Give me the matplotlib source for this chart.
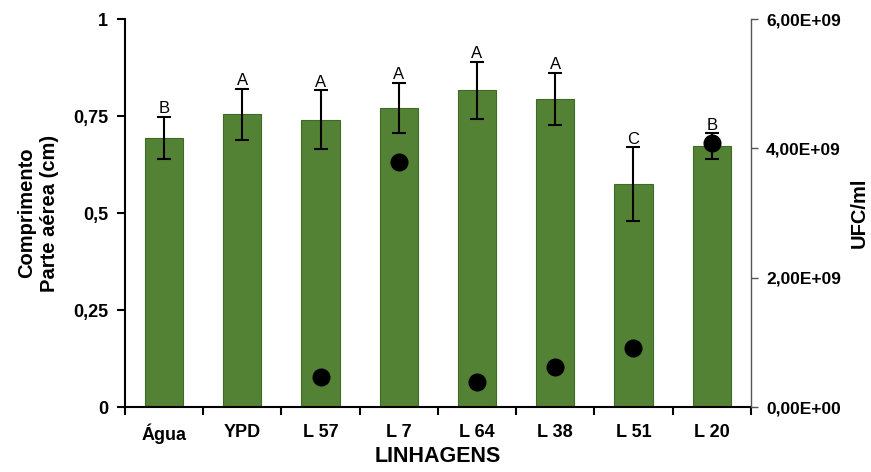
import numpy as np
import matplotlib.pyplot as plt

plt.rcParams['font.family'] = ['Liberation Sans', 'DejaVu Sans']

linhagens = ['Água', 'YPD', 'L 57', 'L 7', 'L 64', 'L 38', 'L 51', 'L 20']
comprimento = [0.693, 0.754, 0.740, 0.771, 0.816, 0.794, 0.574, 0.672]
erro = [0.054, 0.066, 0.076, 0.065, 0.074, 0.067, 0.095, 0.033]
letras = ['B', 'A', 'A', 'A', 'A', 'A', 'C', 'B']
ufc = [np.nan, np.nan, 0.47e9, 3.79e9, 0.38e9, 0.62e9, 0.92e9, 4.08e9]

x = np.arange(len(linhagens))

fig = plt.figure(figsize=(8.71, 4.72), dpi=100)
ax = fig.add_axes([0.1435, 0.1377, 0.7185, 0.822])

ax.bar(x, comprimento, width=0.49, color='#548235', edgecolor='#3f6a26', linewidth=0.8, zorder=2)
ax.errorbar(x, comprimento, yerr=erro, fmt='none', ecolor='black', elinewidth=1.5,
            capsize=5, capthick=1.5, zorder=3)
for xi, yi, e, t in zip(x, comprimento, erro, letras):
    ax.text(xi, yi + e + 0.002, t, ha='center', va='bottom', fontsize=12, zorder=4)

ax.set_xlim(-0.5, len(linhagens) - 0.5)
ax.set_ylim(0, 1)
ax.set_yticks([0, 0.25, 0.5, 0.75, 1])
ax.set_yticklabels(['0', '0,25', '0,5', '0,75', '1'], fontsize=13, fontweight='bold')
ax.set_xticks(np.arange(-0.5, len(linhagens)), labels=[])
ax.set_xticks(x, minor=True)
ax.set_xticklabels(linhagens, minor=True, fontsize=13, fontweight='bold')
ax.tick_params(axis='x', which='major', length=6, width=1.5, direction='out')
ax.tick_params(axis='x', which='minor', length=0, pad=12)
ax.tick_params(axis='y', length=6, width=1.5, direction='out', pad=6)

for s in ['top', 'right']:
    ax.spines[s].set_visible(False)
for s in ['left', 'bottom']:
    ax.spines[s].set_linewidth(1.5)

ax.set_xlabel('LINHAGENS', fontsize=15.5, fontweight='bold', labelpad=1)
ax.set_ylabel('Comprimento\nParte aérea (cm)', fontsize=14.5, fontweight='bold', labelpad=10,
              linespacing=1.25)

ax2 = ax.twinx()
ax2.plot(x, ufc, 'o', color='black', markersize=12, zorder=5)
ax2.set_ylim(0, 6e9)
ax2.set_yticks([0, 2e9, 4e9, 6e9])
ax2.set_yticklabels(['0,00E+00', '2,00E+09', '4,00E+09', '6,00E+09'], fontsize=12.5, fontweight='bold')
ax2.tick_params(axis='y', length=5, width=1, color='#555555', direction='out', pad=6)
for s in ['top', 'left', 'bottom']:
    ax2.spines[s].set_visible(False)
ax2.spines['right'].set_color('#555555')
ax2.spines['right'].set_linewidth(1)
ax2.set_ylabel('UFC/ml', fontsize=14.5, fontweight='bold', labelpad=6)

fig.savefig('out.png', dpi=100)
